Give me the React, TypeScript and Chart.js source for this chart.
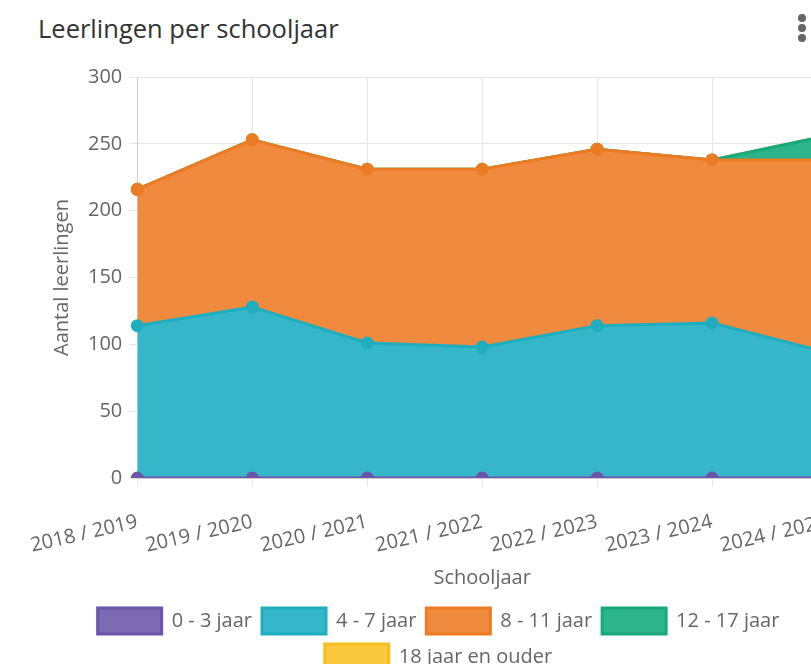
import React, { useEffect, useRef } from 'react';
import { Chart, registerables } from 'chart.js';

Chart.register(...registerables);

const schoolYears = ['2018 / 2019', '2019 / 2020', '2020 / 2021', '2021 / 2022', '2022 / 2023', '2023 / 2024', '2024 / 2025'];
const age0to3 = [0, 0, 0, 0, 0, 0, 0];
const age4to7 = [114, 128, 101, 98, 114, 116, 94];
const age8to11 = [102, 125, 130, 133, 132, 122, 144];
const age12to17 = [0, 0, 0, 0, 0, 0, 18];
const age18plus = [0, 0, 0, 0, 0, 0, 0];

const seriesLabels = ['0 - 3 jaar', '4 - 7 jaar', '8 - 11 jaar', '12 - 17 jaar', '18 jaar en ouder'];
const fills = ['#7C6AB2', '#35B7C9', '#F08A3F', '#2DB48A', '#FBC93D'];
const strokes = ['#6A55AA', '#1FAEC0', '#EC7B24', '#17A87B', '#F5BD1F'];

const FONT = '"Open Sans", "Noto Sans", sans-serif';

export default function App() {
  const ref = useRef<HTMLCanvasElement | null>(null);
  useEffect(() => {
    if (!ref.current) return;
    const series = [age0to3, age4to7, age8to11, age12to17, age18plus];
    const chart = new Chart(ref.current, {
      type: 'line',
      data: {
        labels: schoolYears,
        datasets: series.map((d, i) => ({
          label: seriesLabels[i],
          data: d,
          backgroundColor: fills[i],
          borderColor: strokes[i],
          pointBackgroundColor: strokes[i],
          pointBorderColor: strokes[i],
          borderWidth: 3,
          pointRadius: 5,
          fill: i === 0 ? 'origin' : '-1',
          tension: 0,
        })),
      },
      options: {
        responsive: false,
        animation: false,
        layout: { padding: { left: 50, right: 34, top: 27, bottom: 20 } },
        plugins: {
          legend: {
            position: 'bottom',
            labels: {
              boxWidth: 64,
              boxHeight: 26,
              padding: 10,
              color: '#666',
              font: { family: FONT, size: 20 },
            },
          },
          tooltip: { enabled: false },
        },
        scales: {
          x: {
            grid: { color: '#e6e6e6', tickLength: 8 },
            ticks: { autoSkip: false, minRotation: 13, maxRotation: 13, color: '#666', font: { family: FONT, size: 20 }, padding: 24 },
            title: { display: true, text: 'Schooljaar', color: '#666', font: { family: FONT, size: 20, lineHeight: 1 }, padding: { top: -14, bottom: 10 } },
          },
          y: {
            stacked: true,
            min: 0,
            max: 300,
            grid: { color: '#e6e6e6', tickLength: 8 },
            ticks: { stepSize: 50, color: '#666', font: { family: FONT, size: 20 }, padding: 7 },
            title: { display: true, text: 'Aantal leerlingen', color: '#666', font: { family: FONT, size: 20 }, padding: { top: 0, bottom: 7 } },
          },
        },
      },
    });
    return () => chart.destroy();
  }, []);

  return (
    <div style={{ position: 'fixed', left: 0, top: 0, width: 811, height: 664, overflow: 'hidden', background: '#fff', fontFamily: FONT }}>
      <div style={{ position: 'absolute', left: 38, top: 11, fontSize: 25.5, color: '#333', lineHeight: '34px' }}>
        Leerlingen per schooljaar
      </div>
      <div style={{ position: 'absolute', left: 798, top: 14 }}>
        {[0, 1, 2].map((k) => (
          <div key={k} style={{ width: 8, height: 8, borderRadius: 4, background: '#666', marginBottom: 2 }} />
        ))}
      </div>
      <canvas ref={ref} width={861} height={650} style={{ position: 'absolute', left: 0, top: 50 }} />
    </div>
  );
}
